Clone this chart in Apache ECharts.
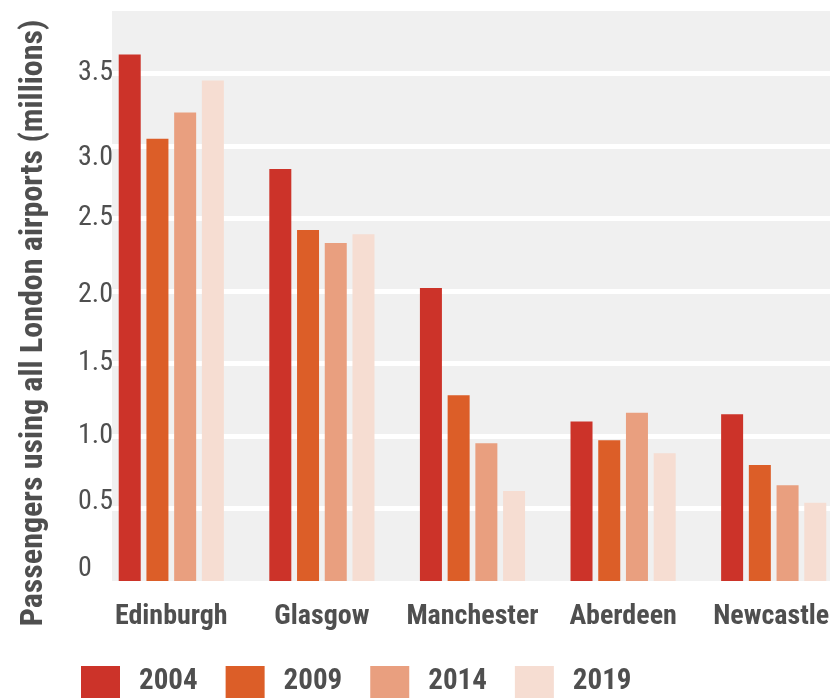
<!DOCTYPE html>
<html>
<head>
<meta charset="utf-8">
<script src="https://cdn.jsdelivr.net/npm/echarts@6/dist/echarts.min.js"></script>
<style>
  html, body { margin: 0; padding: 0; background: #ffffff; }
  #chart { width: 830px; height: 699px; }
</style>
</head>
<body>
<div id="chart"></div>
<script>
const categories = ['Edinburgh', 'Glasgow', 'Manchester', 'Aberdeen', 'Newcastle'];
const years = ['2004', '2009', '2014', '2019'];
const v2004 = [3.63, 2.84, 2.02, 1.10, 1.15];
const v2009 = [3.05, 2.42, 1.28, 0.97, 0.80];
const v2014 = [3.23, 2.33, 0.95, 1.16, 0.66];
const v2019 = [3.45, 2.39, 0.62, 0.88, 0.54];
const yMin = 0;
const yMax = 3.93;
const yStep = 0.5;
const yTitle = 'Passengers using all London airports (millions)';

const colors = ['#cc3329', '#dc5e28', '#e99f7f', '#f6ddd2'];
const textColor = '#4f4f4f';
const FONT = 'Roboto, "Roboto Condensed", "Open Sans", sans-serif';
const BOLD = 'bold condensed';
const REG = 'normal condensed';
const seriesValues = [v2004, v2009, v2014, v2019];

// small vertical nudges of some tick labels, as in the original artwork
function labelStyle(pad) {
  return { fontFamily: FONT, fontSize: 28, fontWeight: REG, color: textColor, padding: pad };
}
const labelRich = {
  n: labelStyle([0, 0, 0, 0]),
  dn12: labelStyle([24, 0, 0, 0]),
  dn5: labelStyle([9, 0, 0, 0]),
  up6: labelStyle([0, 0, 12, 0]),
  up12: labelStyle([0, 0, 24, 0])
};
function labelClass(v) {
  if (v === 3) return 'dn12';
  if (v === 2) return 'dn5';
  if (v === 0.5) return 'up6';
  if (v === 0) return 'up12';
  return 'n';
}
function catStyle(pad) {
  return { fontFamily: FONT, fontSize: 28, fontWeight: BOLD, color: textColor, padding: pad };
}

const chart = echarts.init(document.getElementById('chart'), null, { renderer: 'canvas' });

const option = {
  animation: false,
  textStyle: { fontFamily: FONT },
  color: colors,
  grid: [
    { left: 112, right: 0, top: 11, bottom: 118, show: true, backgroundColor: '#f0f0f0', borderWidth: 0, outerBoundsMode: 'none', containLabel: false },
    { left: 96, right: -19, top: 11, bottom: 118, show: false, outerBoundsMode: 'none', containLabel: false }
  ],
  legend: {
    data: years,
    left: 81,
    top: 666,
    padding: 0,
    icon: 'rect',
    itemWidth: 39,
    itemHeight: 32,
    itemGap: 28,
    selectedMode: false,
    textStyle: { fontFamily: FONT, fontSize: 29, fontWeight: BOLD, color: textColor, padding: [0, 0, 0, 14] }
  },
  xAxis: [
    { type: 'category', gridIndex: 0, data: categories, show: false },
    {
      type: 'category', gridIndex: 1, data: categories,
      axisLine: { show: false }, axisTick: { show: false },
      axisLabel: {
        fontFamily: FONT, fontSize: 28, fontWeight: BOLD, color: textColor, margin: 22, interval: 0,
        rich: { c: catStyle([0, 0, 0, 0]), last: catStyle([0, 5, 0, 0]) },
        formatter: function (v, i) {
          return '{' + (i === categories.length - 1 ? 'last' : 'c') + '|' + v + '}';
        }
      }
    }
  ],
  yAxis: [
    {
      type: 'value', gridIndex: 0, min: yMin, max: yMax, interval: yStep,
      name: yTitle,
      nameLocation: 'middle',
      nameRotate: 90,
      nameGap: 62,
      nameTextStyle: { fontFamily: FONT, fontSize: 32, fontWeight: BOLD, color: textColor, padding: [0, 54, 0, 0] },
      axisLine: { show: false }, axisTick: { show: false },
      splitLine: { show: true, showMinLine: false, showMaxLine: false, lineStyle: { color: '#ffffff', width: 5 } },
      axisLabel: {
        fontFamily: FONT, fontSize: 28, fontWeight: REG, color: textColor, align: 'left', margin: 34,
        showMaxLabel: false,
        rich: labelRich,
        formatter: function (v) {
          const t = v === 0 ? '0' : v.toFixed(1);
          return '{' + labelClass(v) + '|' + t + '}';
        }
      }
    },
    {
      type: 'value', gridIndex: 1, min: yMin, max: yMax, interval: yStep, show: false,
      splitLine: { show: false }
    }
  ],
  series: years.map(function (y, i) {
    return {
      name: y,
      type: 'bar',
      xAxisIndex: 1,
      yAxisIndex: 1,
      data: seriesValues[i],
      barWidth: 22,
      barGap: '26%',
      itemStyle: { color: colors[i] }
    };
  })
};

chart.setOption(option);
</script>
</body>
</html>
